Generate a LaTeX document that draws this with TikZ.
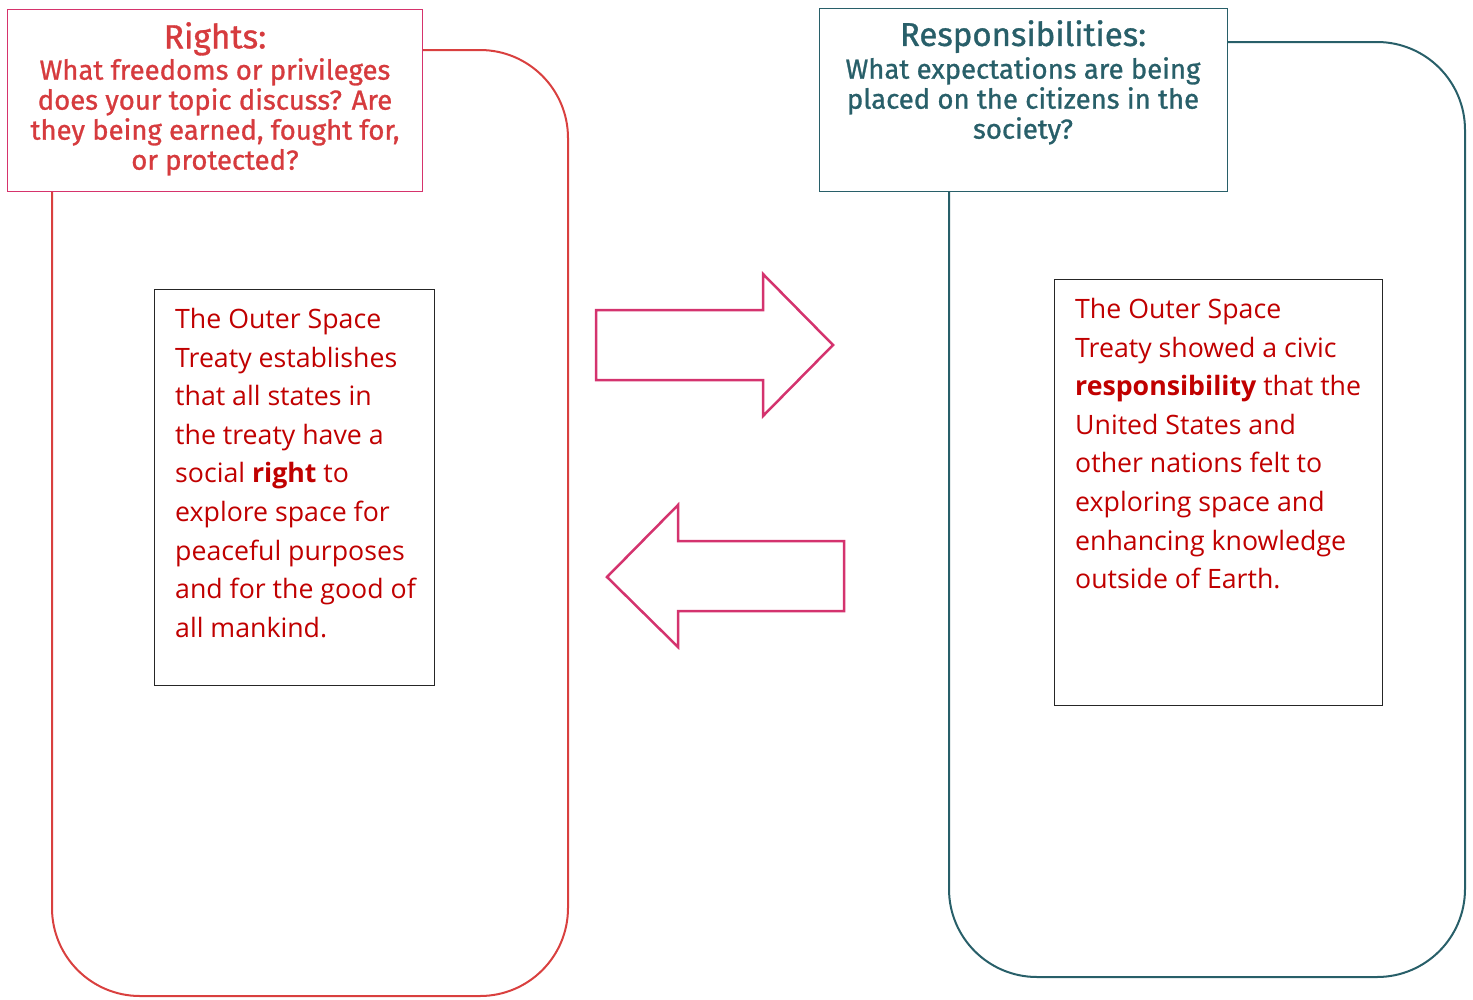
\documentclass[tikz,border=0pt]{standalone}
\usepackage{fontspec}
\setmainfont{Open Sans}
\newfontfamily\headfont{Fira Sans}[FakeBold=1]
\definecolor{frameRed}{HTML}{D9403F}
\definecolor{headRed}{HTML}{D63B3E}
\definecolor{headPink}{HTML}{D6336C}
\definecolor{arrowPink}{HTML}{D4336E}
\definecolor{tealC}{HTML}{285F69}
\definecolor{bodyRed}{HTML}{C00000}
\tikzset{
  frameL/.style={draw=frameRed, line width=2pt, rounded corners=88pt},
  frameR/.style={draw=tealC, line width=2pt, rounded corners=88pt},
  headbox/.style={fill=white, line width=1.3pt, anchor=north west, inner sep=0pt},
  headtext/.style={align=center, inner sep=0pt, anchor=north},
  bodybox/.style={draw=black!85, line width=1.2pt, anchor=north west, inner sep=0pt},
  bodytext/.style={align=left, inner sep=0pt, anchor=north west, text=bodyRed,
    font=\fontsize{26.7}{38.6}\selectfont},
  bigarrow/.style={draw=arrowPink, line width=2.5pt, line join=miter}
}
\begin{document}
\begin{tikzpicture}[x=1pt,y=-1pt]
\useasboundingbox (0,0) rectangle (1473,999);
% frames
\draw[frameL] (422,50) -- (568,50) -- (568,996) -- (52,996) -- (52,191);
\draw[frameR] (1227,42) -- (1465,42) -- (1465,977) -- (949,977) -- (949,191);
% headers
\node[headbox, draw=headPink, minimum width=415pt, minimum height=182pt] (rhead) at (7,9) {};
\node[headtext, text=headRed] (rtitle) at (215,22) {\headfont\fontsize{33.5}{36}\selectfont Rights:};
\node[headtext, text=headRed, font=\headfont\fontsize{27.5}{30}\selectfont] (rq) at (215,58)
  {What freedoms or privileges\\does your topic discuss? Are\\they being earned, fought for,\\or protected?};
\node[headbox, draw=tealC, minimum width=408pt, minimum height=183pt] (shead) at (819,8) {};
\node[headtext, text=tealC] (stitle) at (1023,20) {\headfont\fontsize{33}{36}\selectfont Responsibilities:};
\node[headtext, text=tealC, font=\headfont\fontsize{27.5}{30}\selectfont] (sq) at (1023,57)
  {What expectations are being\\placed on the citizens in the\\society?};
% body boxes
\node[bodybox, minimum width=280pt, minimum height=396pt] (lbox) at (154,289) {};
\node[bodytext] (ltext) at (175,308)
  {The Outer Space\\Treaty establishes\\that all states in\\the treaty have a\\social \textbf{right} to\\explore space for\\peaceful purposes\\and for the good of\\all mankind.};
\node[bodybox, minimum width=328pt, minimum height=426pt] (rbox) at (1054,279) {};
\node[bodytext] (rtext) at (1075,298)
  {The Outer Space\\Treaty showed a civic\\\textbf{responsibility} that the\\United States and\\other nations felt to\\exploring space and\\enhancing knowledge\\outside of Earth.};
% arrows
\draw[bigarrow] (596,310) -- (763,310) -- (763,274) -- (833,345) -- (763,416) -- (763,380) -- (596,380) -- cycle;
\draw[bigarrow] (844,541) -- (678,541) -- (678,505) -- (607,577) -- (678,647) -- (678,611) -- (844,611) -- cycle;
\end{tikzpicture}
\end{document}
